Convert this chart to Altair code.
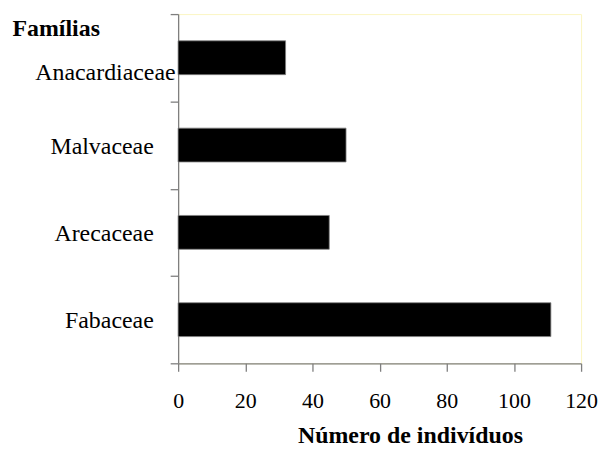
import altair as alt
import pandas as pd

familias = ["Anacardiaceae", "Malvaceae", "Arecaceae", "Fabaceae"]
individuos = [32, 50, 45, 111]
x_ticks = [0, 20, 40, 60, 80, 100, 120]

df = pd.DataFrame({"Família": familias, "Número": individuos})

FONT = "Liberation Serif"
AXC = "#7f7f7f"

chart = alt.Chart(df).mark_bar(
    size=34, color="black", stroke="#808080", strokeWidth=0.8
).encode(
    x=alt.X(
        "Número:Q",
        scale=alt.Scale(domain=[0, 120], nice=False),
        axis=alt.Axis(
            values=x_ticks,
            title="Número de indivíduos",
            titleFont=FONT, titleFontSize=24, titleFontWeight="bold", titleColor="black",
            titleAnchor="start", titleAlign="center", titleBaseline="alphabetic",
            titleX=233, titleY=80,
            labelFont=FONT, labelFontSize=22, labelColor="black",
            labelBaseline="alphabetic", labelPadding=36, labelFlush=False,
            tickSize=8, tickColor=AXC, tickWidth=1.3,
            domainColor=AXC, domainWidth=1.3, grid=False,
        ),
    ),
    y=alt.Y(
        "Família:N",
        sort=familias,
        scale=alt.Scale(paddingInner=0, paddingOuter=0),
        axis=alt.Axis(
            title="Famílias",
            titleFont=FONT, titleFontSize=24, titleFontWeight="bold", titleColor="black",
            titleAngle=0, titleAlign="left", titleBaseline="alphabetic",
            titleX=-167, titleY=22,
            labelFont=FONT, labelFontSize=24, labelColor="black",
            labelAlign="right", labelBaseline="alphabetic",
            labelOffset={"condition": {"test": "datum.value === 'Anacardiaceae'", "value": 22}, "value": 8},
            labelPadding={"condition": {"test": "datum.value === 'Anacardiaceae'", "value": -5}, "value": 17},
            tickBand="extent",
            tickSize=8, tickColor=AXC, tickWidth=1.3,
            domainColor=AXC, domainWidth=1.3, grid=False,
        ),
    ),
).properties(
    width=405,
    height=351,
    autosize=alt.AutoSizeParams(type="none"),
    padding={"left": 171, "top": 5, "right": 18, "bottom": 84},
).configure_view(
    stroke="#fbf6c4", strokeWidth=1
)

chart.save("out.html", embed_options={"renderer": "svg", "actions": False})
